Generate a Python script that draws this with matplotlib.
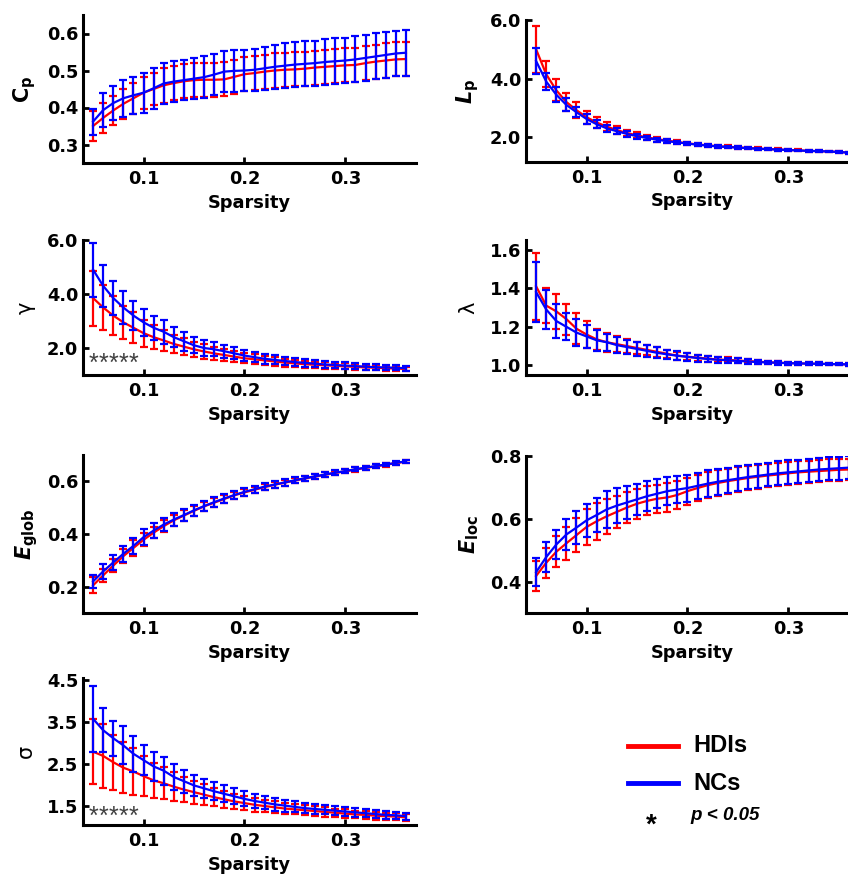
import matplotlib
matplotlib.use("Agg")
import matplotlib.pyplot as plt
from matplotlib.lines import Line2D
import numpy as np

plt.rcParams['font.family'] = ['DejaVu Sans']
plt.rcParams['mathtext.fontset'] = 'custom'
plt.rcParams['mathtext.rm'] = 'DejaVu Sans'
plt.rcParams['mathtext.it'] = 'DejaVu Sans:italic'
plt.rcParams['mathtext.bf'] = 'DejaVu Sans:bold'
plt.rcParams['mathtext.bfit'] = 'DejaVu Sans:italic:bold'

sparsity = [0.05, 0.06, 0.07, 0.08, 0.09, 0.10, 0.11, 0.12, 0.13, 0.14, 0.15, 0.16,
            0.17, 0.18, 0.19, 0.20, 0.21, 0.22, 0.23, 0.24, 0.25, 0.26, 0.27, 0.28,
            0.29, 0.30, 0.31, 0.32, 0.33, 0.34, 0.35, 0.36]

# Cp
cp_hdi = [0.350, 0.372, 0.392, 0.410, 0.425, 0.440, 0.450, 0.460, 0.466, 0.471, 0.474, 0.475,
          0.475, 0.476, 0.483, 0.490, 0.493, 0.497, 0.500, 0.502, 0.503, 0.505, 0.508, 0.510,
          0.512, 0.514, 0.515, 0.520, 0.524, 0.527, 0.530, 0.531]
cp_hdi_sd = [0.040, 0.040, 0.040, 0.040, 0.042, 0.043, 0.044, 0.047, 0.047, 0.046, 0.046, 0.046,
             0.046, 0.046, 0.046, 0.046, 0.046, 0.046, 0.046, 0.046, 0.046, 0.046, 0.046, 0.046,
             0.046, 0.046, 0.046, 0.046, 0.046, 0.046, 0.046, 0.046]
cp_nc = [0.362, 0.393, 0.412, 0.425, 0.433, 0.440, 0.452, 0.465, 0.470, 0.474, 0.478, 0.482,
         0.489, 0.497, 0.499, 0.500, 0.502, 0.506, 0.510, 0.513, 0.516, 0.518, 0.520, 0.523,
         0.525, 0.527, 0.530, 0.534, 0.538, 0.542, 0.546, 0.548]
cp_nc_sd = [0.035, 0.046, 0.046, 0.050, 0.050, 0.054, 0.055, 0.055, 0.055, 0.055, 0.055, 0.056,
            0.056, 0.056, 0.056, 0.056, 0.057, 0.058, 0.059, 0.060, 0.060, 0.061, 0.061, 0.061,
            0.062, 0.062, 0.062, 0.062, 0.062, 0.062, 0.062, 0.062]

# Lp
lp_hdi = [5.00, 4.15, 3.60, 3.20, 2.92, 2.68, 2.50, 2.36, 2.24, 2.14, 2.06, 1.99,
          1.93, 1.88, 1.83, 1.79, 1.75, 1.72, 1.69, 1.67, 1.65, 1.63, 1.61, 1.59,
          1.58, 1.56, 1.55, 1.53, 1.52, 1.51, 1.49, 1.47]
lp_hdi_sd = [0.80, 0.45, 0.38, 0.32, 0.27, 0.22, 0.18, 0.15, 0.13, 0.11, 0.10, 0.09,
             0.08, 0.07, 0.07, 0.06, 0.06, 0.05, 0.05, 0.05, 0.05, 0.04, 0.04, 0.04,
             0.04, 0.04, 0.04, 0.03, 0.03, 0.03, 0.03, 0.03]
lp_nc = [4.60, 3.90, 3.45, 3.10, 2.85, 2.62, 2.44, 2.30, 2.20, 2.11, 2.03, 1.97,
         1.91, 1.86, 1.82, 1.78, 1.74, 1.71, 1.68, 1.66, 1.64, 1.62, 1.60, 1.59,
         1.57, 1.56, 1.54, 1.53, 1.52, 1.51, 1.49, 1.47]
lp_nc_sd = [0.45, 0.30, 0.26, 0.22, 0.18, 0.16, 0.13, 0.12, 0.11, 0.10, 0.09, 0.08,
            0.07, 0.07, 0.06, 0.06, 0.05, 0.05, 0.05, 0.04, 0.04, 0.04, 0.04, 0.04,
            0.03, 0.03, 0.03, 0.03, 0.03, 0.03, 0.03, 0.03]

# gamma
gamma_hdi = [3.85, 3.50, 3.20, 2.95, 2.75, 2.55, 2.40, 2.28, 2.15, 2.05, 1.95, 1.87,
             1.80, 1.74, 1.68, 1.62, 1.58, 1.54, 1.50, 1.46, 1.43, 1.40, 1.38, 1.36,
             1.34, 1.32, 1.30, 1.28, 1.27, 1.25, 1.24, 1.22]
gamma_hdi_sd = [1.02, 0.85, 0.72, 0.62, 0.58, 0.50, 0.45, 0.40, 0.35, 0.32, 0.28, 0.26,
                0.24, 0.22, 0.20, 0.19, 0.18, 0.17, 0.16, 0.15, 0.14, 0.13, 0.12, 0.12,
                0.11, 0.11, 0.10, 0.10, 0.09, 0.09, 0.09, 0.08]
gamma_nc = [4.90, 4.30, 3.85, 3.50, 3.20, 2.95, 2.75, 2.60, 2.40, 2.25, 2.10, 2.00,
            1.95, 1.88, 1.80, 1.72, 1.66, 1.60, 1.56, 1.52, 1.48, 1.45, 1.42, 1.39,
            1.37, 1.35, 1.33, 1.31, 1.29, 1.28, 1.27, 1.25]
gamma_nc_sd = [1.00, 0.78, 0.62, 0.62, 0.55, 0.50, 0.45, 0.45, 0.38, 0.35, 0.30, 0.28,
               0.26, 0.24, 0.22, 0.20, 0.19, 0.18, 0.17, 0.16, 0.15, 0.14, 0.13, 0.13,
               0.12, 0.12, 0.11, 0.11, 0.10, 0.10, 0.10, 0.09]
gamma_sig = [0.05, 0.06, 0.07, 0.08, 0.09]

# lambda
lam_hdi = [1.41, 1.31, 1.28, 1.24, 1.19, 1.16, 1.135, 1.12, 1.11, 1.10, 1.09, 1.08,
           1.07, 1.06, 1.05, 1.045, 1.04, 1.035, 1.03, 1.028, 1.025, 1.022, 1.019, 1.016,
           1.014, 1.012, 1.010, 1.009, 1.008, 1.007, 1.006, 1.005]
lam_hdi_sd = [0.175, 0.09, 0.09, 0.08, 0.08, 0.07, 0.055, 0.05, 0.04, 0.035, 0.03, 0.028,
              0.025, 0.022, 0.02, 0.018, 0.016, 0.015, 0.014, 0.013, 0.012, 0.011, 0.010, 0.009,
              0.009, 0.008, 0.008, 0.007, 0.007, 0.006, 0.006, 0.006]
lam_nc = [1.38, 1.29, 1.23, 1.20, 1.17, 1.15, 1.13, 1.12, 1.105, 1.095, 1.085, 1.075,
          1.065, 1.057, 1.05, 1.044, 1.038, 1.033, 1.029, 1.026, 1.023, 1.020, 1.017, 1.015,
          1.013, 1.011, 1.010, 1.009, 1.008, 1.007, 1.006, 1.005]
lam_nc_sd = [0.155, 0.10, 0.09, 0.07, 0.07, 0.06, 0.055, 0.045, 0.04, 0.035, 0.035, 0.03,
             0.028, 0.025, 0.022, 0.02, 0.018, 0.016, 0.015, 0.014, 0.013, 0.012, 0.011, 0.010,
             0.010, 0.009, 0.008, 0.008, 0.007, 0.007, 0.006, 0.006]

# Eglob
eglob_hdi = [0.205, 0.243, 0.280, 0.316, 0.347, 0.378, 0.405, 0.430, 0.452, 0.470, 0.488, 0.505,
             0.519, 0.533, 0.547, 0.558, 0.568, 0.578, 0.587, 0.595, 0.603, 0.611, 0.618, 0.625,
             0.632, 0.638, 0.645, 0.651, 0.657, 0.663, 0.669, 0.675]
eglob_hdi_sd = [0.030, 0.025, 0.025, 0.028, 0.030, 0.025, 0.022, 0.022, 0.020, 0.020, 0.018, 0.017,
                0.016, 0.015, 0.014, 0.013, 0.012, 0.012, 0.011, 0.011, 0.010, 0.010, 0.009, 0.009,
                0.008, 0.008, 0.008, 0.007, 0.007, 0.007, 0.006, 0.006]
eglob_nc = [0.220, 0.258, 0.292, 0.325, 0.355, 0.388, 0.413, 0.436, 0.455, 0.472, 0.490, 0.506,
            0.521, 0.535, 0.548, 0.560, 0.570, 0.580, 0.588, 0.596, 0.604, 0.612, 0.619, 0.626,
            0.633, 0.639, 0.646, 0.652, 0.658, 0.664, 0.670, 0.676]
eglob_nc_sd = [0.025, 0.028, 0.030, 0.030, 0.030, 0.030, 0.028, 0.026, 0.024, 0.022, 0.020, 0.019,
               0.018, 0.017, 0.016, 0.015, 0.014, 0.013, 0.012, 0.012, 0.011, 0.010, 0.010, 0.009,
               0.009, 0.008, 0.008, 0.008, 0.007, 0.007, 0.007, 0.006]

# Eloc
eloc_hdi = [0.418, 0.460, 0.495, 0.522, 0.548, 0.574, 0.592, 0.608, 0.622, 0.636, 0.648, 0.657,
            0.664, 0.668, 0.676, 0.688, 0.698, 0.707, 0.714, 0.720, 0.725, 0.730, 0.734, 0.738,
            0.741, 0.745, 0.748, 0.750, 0.752, 0.754, 0.756, 0.757]
eloc_hdi_sd = [0.048, 0.048, 0.050, 0.052, 0.055, 0.058, 0.058, 0.055, 0.052, 0.050, 0.048, 0.046,
               0.045, 0.045, 0.044, 0.043, 0.042, 0.041, 0.040, 0.040, 0.039, 0.038, 0.038, 0.037,
               0.037, 0.036, 0.036, 0.035, 0.035, 0.035, 0.035, 0.035]
eloc_nc = [0.430, 0.478, 0.518, 0.550, 0.572, 0.595, 0.612, 0.630, 0.642, 0.652, 0.662, 0.672,
           0.680, 0.688, 0.693, 0.698, 0.705, 0.712, 0.718, 0.723, 0.728, 0.733, 0.737, 0.741,
           0.745, 0.748, 0.751, 0.754, 0.757, 0.759, 0.761, 0.763]
eloc_nc_sd = [0.045, 0.048, 0.045, 0.050, 0.052, 0.052, 0.055, 0.058, 0.055, 0.052, 0.050, 0.048,
              0.046, 0.045, 0.044, 0.043, 0.042, 0.042, 0.041, 0.040, 0.040, 0.039, 0.039, 0.038,
              0.038, 0.038, 0.037, 0.037, 0.037, 0.037, 0.037, 0.037]

# sigma
sigma_hdi = [2.80, 2.70, 2.55, 2.42, 2.33, 2.22, 2.12, 2.05, 1.97, 1.90, 1.84, 1.78,
             1.72, 1.67, 1.62, 1.58, 1.54, 1.51, 1.48, 1.45, 1.43, 1.41, 1.39, 1.37,
             1.35, 1.33, 1.31, 1.30, 1.28, 1.27, 1.26, 1.24]
sigma_hdi_sd = [0.77, 0.75, 0.65, 0.60, 0.55, 0.48, 0.42, 0.38, 0.34, 0.30, 0.27, 0.25,
                0.22, 0.20, 0.18, 0.17, 0.16, 0.15, 0.14, 0.13, 0.12, 0.12, 0.11, 0.11,
                0.10, 0.10, 0.09, 0.09, 0.09, 0.08, 0.08, 0.08]
sigma_nc = [3.58, 3.31, 3.12, 2.95, 2.75, 2.60, 2.45, 2.35, 2.20, 2.10, 2.00, 1.93,
            1.86, 1.80, 1.74, 1.68, 1.63, 1.59, 1.55, 1.52, 1.49, 1.46, 1.44, 1.42,
            1.40, 1.38, 1.36, 1.34, 1.32, 1.30, 1.29, 1.27]
sigma_nc_sd = [0.78, 0.52, 0.42, 0.45, 0.42, 0.36, 0.34, 0.33, 0.30, 0.27, 0.25, 0.23,
               0.21, 0.20, 0.19, 0.18, 0.17, 0.16, 0.15, 0.14, 0.13, 0.12, 0.12, 0.11,
               0.11, 0.10, 0.10, 0.10, 0.09, 0.09, 0.09, 0.08]
sigma_sig = [0.05, 0.06, 0.07, 0.08, 0.09]

W, H = 848, 877
fig = plt.figure(figsize=(W / 100, H / 100), dpi=100)

RED = (1, 0, 0)
BLUE = (0, 0, 1)
LEG_FONT = ['Liberation Sans', 'DejaVu Sans']


def px_axes(left, top, right, bottom):
    return fig.add_axes([left / W, 1 - bottom / H, (right - left) / W, (bottom - top) / H])


def panel(ax, hdi, hdi_sd, nc, nc_sd, ylim, yticks, yticklabels, ylabel, sig=None, sig_y=None,
          label_kw=None):
    ax.errorbar(sparsity, hdi, yerr=hdi_sd, color=RED, lw=1.6, elinewidth=1.6,
                capsize=3.2, capthick=1.6, zorder=2)
    ax.errorbar(sparsity, nc, yerr=nc_sd, color=BLUE, lw=1.6, elinewidth=1.6,
                capsize=3.2, capthick=1.6, zorder=3)
    ax.set_xlim(0.04, 0.37)
    ax.set_ylim(*ylim)
    ax.set_xticks([0.1, 0.2, 0.3])
    ax.set_xticklabels(['0.1', '0.2', '0.3'])
    ax.set_yticks(yticks)
    ax.set_yticklabels(yticklabels)
    for s in ['top', 'right']:
        ax.spines[s].set_visible(False)
    for s in ['left', 'bottom']:
        ax.spines[s].set_linewidth(2.2)
    ax.tick_params(direction='in', length=4, width=2, labelsize=12.8)
    ax.tick_params(axis='x', pad=5)
    ax.tick_params(axis='y', pad=3.5)
    for lab in ax.get_xticklabels() + ax.get_yticklabels():
        lab.set_fontweight('bold')
    ax.set_xlabel('Sparsity', fontsize=12.8, fontweight='bold', labelpad=4)
    kw = dict(fontsize=15)
    if label_kw:
        kw.update(label_kw)
    ax.set_ylabel(ylabel, **kw)
    if sig is not None:
        for xv in sig:
            ax.text(xv, sig_y, '*', color='#404040', fontsize=18, ha='center', va='baseline',
                    family=LEG_FONT)


LX0, LX1 = 83, 416
RX0, RX1 = 526, 859

ax1 = px_axes(LX0, 15, LX1, 163)
panel(ax1, cp_hdi, cp_hdi_sd, cp_nc, cp_nc_sd, (0.25, 0.65), [0.3, 0.4, 0.5, 0.6],
      ['0.3', '0.4', '0.5', '0.6'], r'$\mathbf{C}_\mathbf{p}$', label_kw=dict(labelpad=6))

ax2 = px_axes(RX0, 20, RX1, 162)
panel(ax2, lp_hdi, lp_hdi_sd, lp_nc, lp_nc_sd, (1.15, 6.0), [2.0, 4.0, 6.0],
      ['2.0', '4.0', '6.0'], r'$\mathbfit{L}_\mathbf{p}$', label_kw=dict(labelpad=6))

ax3 = px_axes(LX0, 240, LX1, 375)
panel(ax3, gamma_hdi, gamma_hdi_sd, gamma_nc, gamma_nc_sd, (1.0, 6.0), [2.0, 4.0, 6.0],
      ['2.0', '4.0', '6.0'], 'γ', sig=gamma_sig, sig_y=1.14, label_kw=dict(labelpad=8))

ax4 = px_axes(RX0, 240, RX1, 375)
panel(ax4, lam_hdi, lam_hdi_sd, lam_nc, lam_nc_sd, (0.95, 1.65), [1.0, 1.2, 1.4, 1.6],
      ['1.0', '1.2', '1.4', '1.6'], 'λ', label_kw=dict(labelpad=8))

ax5 = px_axes(LX0, 455, LX1, 613)
panel(ax5, eglob_hdi, eglob_hdi_sd, eglob_nc, eglob_nc_sd, (0.1, 0.7), [0.2, 0.4, 0.6],
      ['0.2', '0.4', '0.6'], r'$\mathbfit{E}_\mathbf{glob}$', label_kw=dict(labelpad=5))

ax6 = px_axes(RX0, 456, RX1, 613)
panel(ax6, eloc_hdi, eloc_hdi_sd, eloc_nc, eloc_nc_sd, (0.3, 0.8), [0.4, 0.6, 0.8],
      ['0.4', '0.6', '0.8'], r'$\mathbfit{E}_\mathbf{loc}$', label_kw=dict(labelpad=6))

ax7 = px_axes(LX0, 678, LX1, 825)
panel(ax7, sigma_hdi, sigma_hdi_sd, sigma_nc, sigma_nc_sd, (1.06, 4.55), [1.5, 2.5, 3.5, 4.5],
      ['1.5', '2.5', '3.5', '4.5'], 'σ', sig=sigma_sig, sig_y=1.09, label_kw=dict(labelpad=8))


# Legend
def fx(x):
    return x / W


def fy(y):
    return 1 - y / H


fig.add_artist(Line2D([fx(628), fx(678)], [fy(746), fy(746)], color=RED, lw=3.5))
fig.text(fx(693), fy(746), 'HDIs', fontsize=17, fontweight='bold', va='center', ha='left',
         family=LEG_FONT)
fig.add_artist(Line2D([fx(628), fx(678)], [fy(783), fy(783)], color=BLUE, lw=3.5))
fig.text(fx(693), fy(783), 'NCs', fontsize=17, fontweight='bold', va='center', ha='left',
         family=LEG_FONT)
fig.text(fx(651), fy(826), '*', fontsize=20, fontweight='bold', va='center', ha='center',
         family=LEG_FONT)
fig.text(fx(690), fy(815), 'p < 0.05', fontsize=13.5, fontweight='bold', style='italic',
         va='center', ha='left', family=LEG_FONT)

fig.savefig('out.png', dpi=100)
